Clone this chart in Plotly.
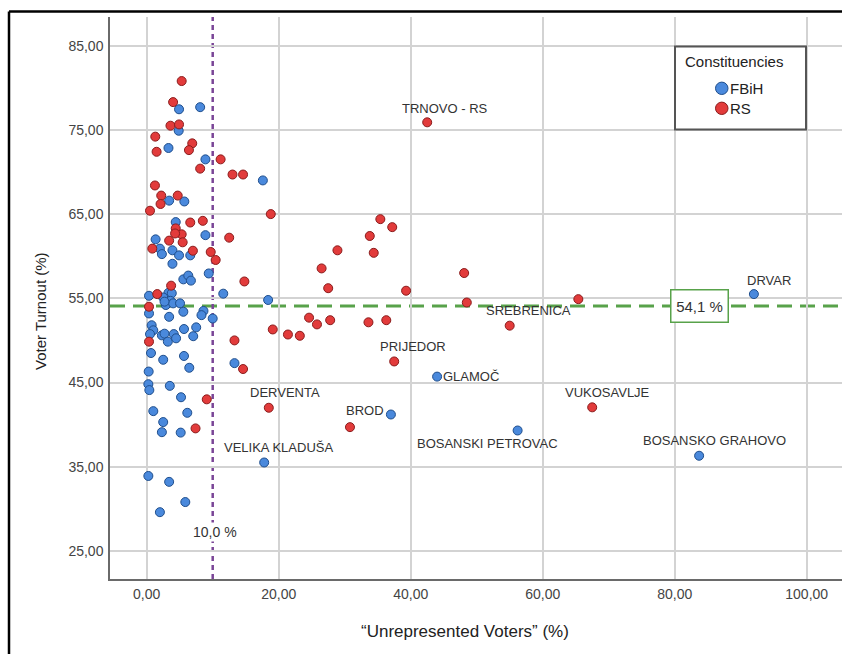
import plotly.graph_objects as go

# ---------------- data ----------------
fbih_x = [8.1, 4.9, 4.85, 3.3, 8.9, 17.6, 3.4, 5.7, 4.4, 1.35, 8.9, 2.0, 2.3, 3.9, 4.9, 6.6,
          3.9, 9.4, 5.55, 6.3, 6.7, 11.6, 18.4, 0.35, 3.3, 3.8, 2.5, 3.6, 2.9, 4.0, 5.05, 2.7,
          8.6, 8.3, 10.0, 0.35, 3.4, 5.55, 0.75, 1.0, 0.5, 2.3, 2.7, 3.2, 4.1, 4.45, 5.65, 7.05,
          7.5, 0.65, 2.5, 5.65, 6.45, 13.3, 0.3, 0.25, 0.4, 3.5, 5.2, 1.0, 6.15, 2.5, 2.3, 5.15,
          0.25, 3.4, 5.85, 2.0]
fbih_y = [77.7, 77.45, 74.9, 72.85, 71.5, 69.0, 66.6, 66.5, 64.05, 62.0, 62.5, 60.9, 60.25, 60.7, 60.1, 60.1,
          59.1, 57.95, 57.25, 57.7, 57.1, 55.55, 54.8, 55.3, 55.65, 55.6, 55.1, 54.7, 54.2, 54.4, 54.4, 54.6,
          53.5, 53.0, 52.6, 53.2, 52.8, 53.4, 51.8, 51.2, 50.75, 50.6, 50.8, 49.85, 50.75, 50.25, 51.35, 50.5,
          51.55, 48.5, 47.7, 48.15, 46.75, 47.3, 46.3, 44.8, 44.1, 44.6, 43.25, 41.6, 41.4, 40.3, 39.1, 39.05,
          33.9, 33.2, 30.8, 29.6]

fbih_label_names = ["VELIKA KLADUŠA", "BROD", "GLAMOČ", "BOSANSKI PETROVAC", "BOSANSKO GRAHOVO", "DRVAR"]
fbih_label_x = [17.8, 37.0, 44.0, 56.2, 83.7, 92.0]
fbih_label_y = [35.5, 41.2, 45.7, 39.3, 36.3, 55.5]

rs_x = [5.3, 4.0, 3.6, 4.9, 1.3, 1.5, 6.9, 6.4, 11.2, 8.1, 13.0, 14.6, 1.25, 2.2, 4.7, 2.1,
        0.5, 18.8, 6.6, 8.5, 4.4, 5.3, 4.3, 3.4, 5.45, 12.5, 0.85, 7.0, 9.7, 10.45, 14.8, 3.7,
        1.6, 0.35, 0.35, 13.3, 14.6, 9.1, 7.4, 19.1, 21.4, 23.2, 24.6, 25.8, 27.8, 33.6, 36.3,
        27.5, 26.5, 28.9, 33.8, 34.4, 35.4, 37.2, 39.3, 48.1, 48.5, 65.4, 30.8]
rs_y = [80.8, 78.3, 75.5, 75.65, 74.2, 72.4, 73.4, 72.6, 71.5, 70.4, 69.7, 69.7, 68.4, 67.2, 67.2, 66.2,
        65.4, 65.0, 64.0, 64.2, 63.3, 62.6, 62.7, 61.85, 61.65, 62.2, 60.9, 60.65, 60.5, 59.55, 57.0, 56.5,
        55.5, 54.0, 49.85, 50.0, 46.6, 43.0, 39.55, 51.3, 50.7, 50.55, 52.7, 51.9, 52.4, 52.15, 52.4,
        56.2, 58.55, 60.7, 62.4, 60.4, 64.4, 63.45, 55.9, 58.0, 54.5, 54.9, 39.7]

rs_label_names = ["DERVENTA", "PRIJEDOR", "SREBRENICA", "VUKOSAVLJE", "TRNOVO - RS"]
rs_label_x = [18.5, 37.5, 55.0, 67.5, 42.5]
rs_label_y = [42.0, 47.5, 51.75, 42.05, 75.9]

TURNOUT_REF = 54.1
UNREP_REF = 10.0

x_ticks = [0, 20, 40, 60, 80, 100]
y_ticks = [25, 35, 45, 55, 65, 75, 85]

# ---------------- styles ----------------
FONT = "Liberation Sans, Arial, sans-serif"
BLUE, BLUE_EDGE = "#4a89dc", "#1f4e8c"
RED, RED_EDGE = "#e23b3b", "#8a1c1c"
GREEN = "#58a24a"
PURPLE = "#7a4597"

# label offsets in pixels: (xanchor, xshift, yshift)
label_offsets = {
    "TRNOVO - RS": ("left", -27, 14),
    "DRVAR": ("left", -9, 14),
    "SREBRENICA": ("left", -26, 15),
    "PRIJEDOR": ("left", -16, 15),
    "GLAMOČ": ("left", 4, 0),
    "VUKOSAVLJE": ("left", -29, 15),
    "BOSANSKI PETROVAC": ("left", -103, -13),
    "BOSANSKO GRAHOVO": ("left", -58, 15),
    "BROD": ("right", -5, 4),
    "DERVENTA": ("left", -21, 15),
    "VELIKA KLADUŠA": ("left", -42, 15),
}

# the page margin is removed after plotting (post_script), so figure pixels == screen pixels
W, H = 842, 654
PLOT_L, PLOT_R, PLOT_T, PLOT_B = 110, 842, 17, 579      # screen pixels of the plot area
L, R, T, B = PLOT_L, W - PLOT_R, PLOT_T, H - PLOT_B
PW, PH = PLOT_R - PLOT_L, PLOT_B - PLOT_T


def px(sx):
    return (sx - PLOT_L) / PW


def py(sy):
    return (PLOT_B - sy) / PH


fig = go.Figure()
fig.add_trace(go.Scatter(
    x=fbih_x + fbih_label_x, y=fbih_y + fbih_label_y, mode="markers", name="FBiH",
    marker=dict(size=9, color=BLUE, line=dict(color=BLUE_EDGE, width=1)), showlegend=False))
fig.add_trace(go.Scatter(
    x=rs_x + rs_label_x, y=rs_y + rs_label_y, mode="markers", name="RS",
    marker=dict(size=9, color=RED, line=dict(color=RED_EDGE, width=1)), showlegend=False))

shapes = []
# reference lines
shapes.append(dict(type="line", xref="paper", yref="y", x0=0, x1=1, y0=TURNOUT_REF, y1=TURNOUT_REF,
                   line=dict(color=GREEN, width=3, dash="15px,8px"), layer="between"))
shapes.append(dict(type="line", xref="x", yref="paper", x0=UNREP_REF, x1=UNREP_REF, y0=0, y1=1,
                   line=dict(color=PURPLE, width=2.5, dash="5px,4px"), layer="between"))
# outer frame (left and top edges visible)
shapes.append(dict(type="line", xref="paper", yref="paper", x0=px(9), x1=px(9), y0=py(11.5), y1=py(700),
                   line=dict(color="black", width=2.5)))
shapes.append(dict(type="line", xref="paper", yref="paper", x0=px(9), x1=px(900), y0=py(11.5), y1=py(11.5),
                   line=dict(color="black", width=2.5)))
# legend box
shapes.append(dict(type="rect", xref="paper", yref="paper", x0=px(675), x1=px(806), y0=py(129.5), y1=py(46.5),
                   line=dict(color="#555555", width=2), fillcolor="white"))
for cy, col, edge in [(88.3, BLUE, BLUE_EDGE), (108.3, RED, RED_EDGE)]:
    shapes.append(dict(type="circle", xref="paper", yref="paper", x0=px(715.5), x1=px(728),
                       y0=py(cy + 6.2), y1=py(cy - 6.2), fillcolor=col, line=dict(color=edge, width=1)))

annotations = []
annotations.append(dict(text="Constituencies", xref="paper", yref="paper", x=px(683), y=py(61.7),
                        xanchor="left", yanchor="middle", showarrow=False,
                        font=dict(family=FONT, size=15, color="#222")))
annotations.append(dict(text="FBiH", xref="paper", yref="paper", x=px(728), y=py(88.3),
                        xanchor="left", yanchor="middle", showarrow=False,
                        font=dict(family=FONT, size=15, color="#222")))
annotations.append(dict(text="RS", xref="paper", yref="paper", x=px(728), y=py(108.3),
                        xanchor="left", yanchor="middle", showarrow=False,
                        font=dict(family=FONT, size=15, color="#222")))

# town labels
for names, xs, ys in [(fbih_label_names, fbih_label_x, fbih_label_y), (rs_label_names, rs_label_x, rs_label_y)]:
    for n, xv, yv in zip(names, xs, ys):
        anc, dx, dy = label_offsets[n]
        annotations.append(dict(text=n, x=xv, y=yv, xref="x", yref="y", xanchor=anc, yanchor="middle",
                                xshift=dx, yshift=dy, showarrow=False,
                                font=dict(family=FONT, size=13, color="#333")))

# reference labels
annotations.append(dict(text=f"{TURNOUT_REF:.1f} %".replace(".", ","), x=83.8, y=TURNOUT_REF,
                        xref="x", yref="y", xanchor="center", yanchor="middle", showarrow=False,
                        bgcolor="white", bordercolor=GREEN, borderwidth=1.5, borderpad=2, width=52, height=27,
                        font=dict(family=FONT, size=15, color="#333")))
annotations.append(dict(text=f"{UNREP_REF:.1f} %".replace(".", ","), x=UNREP_REF + 0.3, y=27.3,
                        xref="x", yref="y", xanchor="center", yanchor="middle", showarrow=False,
                        bgcolor="white", font=dict(family=FONT, size=14, color="#333")))

# axis titles
annotations.append(dict(text="“Unrepresented Voters” (%)", xref="paper", yref="paper", x=px(465), y=py(631),
                        xanchor="center", yanchor="middle", showarrow=False,
                        font=dict(family=FONT, size=17, color="#222")))
annotations.append(dict(text="Voter Turnout (%)", xref="paper", yref="paper", x=px(40), y=py(311),
                        xanchor="center", yanchor="middle", showarrow=False, textangle=-90,
                        font=dict(family=FONT, size=15, color="#222")))

fig.update_layout(
    width=W, height=H, margin=dict(l=L, r=R, t=T, b=B, autoexpand=False),
    paper_bgcolor="white", plot_bgcolor="white", separators=",.",
    shapes=shapes, annotations=annotations, showlegend=False,
    xaxis=dict(range=[(PLOT_L - 146.7) / 6.6, (PLOT_R - 146.7) / 6.6], tickmode="array", tickvals=x_ticks,
               tickformat=".2f", showgrid=True, gridcolor="#d3d3d3", gridwidth=1.5,
               showline=True, linecolor="#6a6a6a", linewidth=1.5, zeroline=False, ticks="",
               ticklabelstandoff=1, tickfont=dict(family=FONT, size=14, color="#444")),
    yaxis=dict(range=[85 - (PLOT_B - 45.7) / 8.42, 85 + (45.7 - PLOT_T) / 8.42], tickmode="array",
               tickvals=y_ticks, tickformat=".2f", showgrid=True, gridcolor="#d3d3d3", gridwidth=1.5,
               showline=True, linecolor="#6a6a6a", linewidth=1.5, zeroline=False, ticks="",
               ticklabelstandoff=2, tickfont=dict(family=FONT, size=14, color="#444")),
)

post = ("document.documentElement.style.margin='0';document.documentElement.style.overflow='hidden';"
        "document.body.style.margin='0';document.body.style.padding='0';document.body.style.overflow='hidden';")
fig.write_html("out.html", post_script=post, config={"displayModeBar": False})
